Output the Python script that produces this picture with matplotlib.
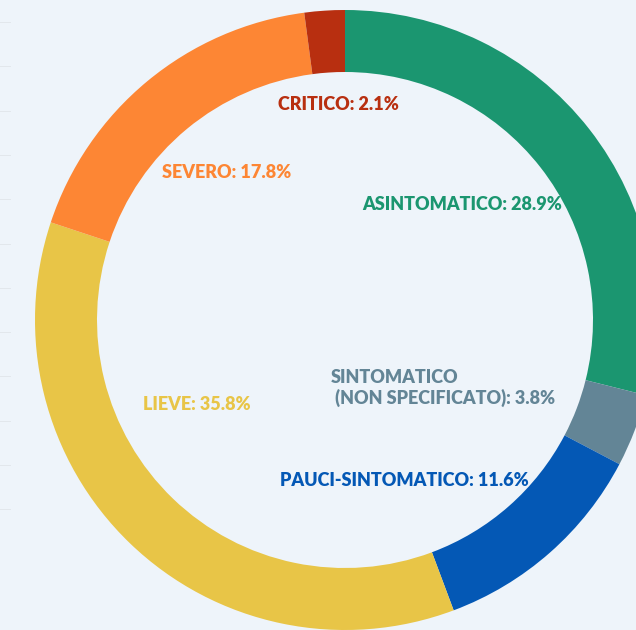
import matplotlib.pyplot as plt

# Dati
categorie = ['ASINTOMATICO', 'SINTOMATICO\n (NON SPECIFICATO)', 'PAUCI-SINTOMATICO',
             'LIEVE', 'SEVERO', 'CRITICO']
percentuali = [28.9, 3.8, 11.6, 35.8, 17.8, 2.1]
colori = ['#1B9670', '#638596', '#0458B5', '#E8C547', '#FD8634', '#B82F10']

# posizioni etichette in pixel (x, y dall'alto)
pos_etichette = [(462, 204), (331, 388), (404, 481), (197, 404), (227, 173), (338, 104)]
allineamento = ['center', 'left', 'center', 'center', 'center', 'center']

bg = '#EEF4FA'
W, H = 636, 630
cx, cy, R = 345, 320, 310


def px(x, y):
    return (x - cx) / R, (cy - y) / R


fig = plt.figure(figsize=(W / 100, H / 100), dpi=100, facecolor=bg)
ax = fig.add_axes([0, 0, 1, 1])
ax.set_facecolor(bg)

ax.pie(percentuali, colors=colori, startangle=90, counterclock=False,
       radius=1, center=(0, 0), wedgeprops=dict(width=0.2, linewidth=0))

x0, y1 = px(0, 0)
x1, y0 = px(W, H)
ax.set_xlim(x0, x1)
ax.set_ylim(y0, y1)
ax.set_aspect('auto')
ax.axis('off')

# righe grigie a sinistra
for i in range(12):
    yy = 22 + i * 44.3
    a, b = px(0, yy)
    c, _ = px(10, yy)
    ax.plot([a, c], [b, b], color='#E2E7EC', lw=0.7)

for cat, p, col, (tx, ty), ha in zip(categorie, percentuali, colori, pos_etichette, allineamento):
    x, y = px(tx, ty)
    ax.text(x, y, f'{cat}: {p}%', color=col, ha=ha, va='center', fontsize=13,
            fontweight='heavy', family='Lato', linespacing=1.15)

fig.savefig('out.png', dpi=100, facecolor=bg)
